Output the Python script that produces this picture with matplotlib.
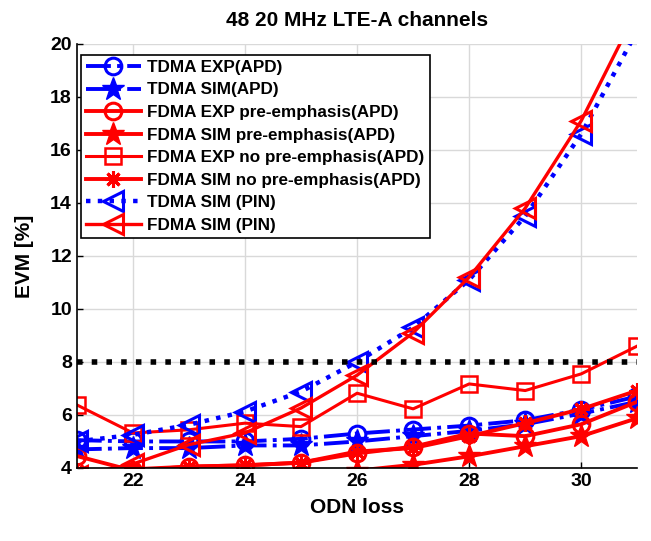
import numpy as np
import matplotlib
matplotlib.use('Agg')
import matplotlib.pyplot as plt

plt.rcParams['font.family'] = ['Liberation Sans', 'DejaVu Sans']
plt.rcParams['font.weight'] = 'bold'

odn_loss = [21, 22, 23, 24, 25, 26, 27, 28, 29, 30, 31]

tdma_exp_apd = [5.05, 5.0, 5.0, 5.0, 5.1, 5.3, 5.45, 5.6, 5.8, 6.2, 6.7]
tdma_sim_apd = [4.7, 4.75, 4.75, 4.85, 4.85, 5.0, 5.2, 5.4, 5.65, 6.05, 6.5]
fdma_exp_pre = [4.45, 3.9, 4.05, 4.1, 4.2, 4.55, 4.8, 5.3, 5.2, 5.65, 6.5]
fdma_sim_pre = [3.1, 3.2, 3.35, 3.5, 3.7, 3.9, 4.12, 4.44, 4.82, 5.2, 5.88]
fdma_exp_nopre = [6.38, 5.32, 5.44, 5.69, 5.56, 6.82, 6.23, 7.17, 6.92, 7.55, 8.6]
fdma_sim_nopre = [3.9, 3.95, 4.05, 4.1, 4.2, 4.62, 4.75, 5.2, 5.69, 6.22, 6.92]
tdma_sim_pin = [5.0, 5.25, 5.63, 6.13, 6.88, 8.0, 9.3, 11.1, 13.5, 16.6, 20.5]
fdma_sim_pin = [3.7, 4.15, 4.88, 5.32, 6.26, 7.5, 9.1, 11.2, 13.8, 17.1, 21.3]

threshold = 8


def main():
    fig = plt.figure(figsize=(6.51, 5.41), dpi=100)
    ax = fig.add_axes([0.118, 0.135, 0.861, 0.784])

    blue = '#0000ff'
    red = '#ff0000'
    lw = 2.8
    ms = 12

    ax.plot(odn_loss, tdma_exp_apd, '-.', color=blue, lw=lw, marker='o', ms=ms,
            mfc='none', mew=2.2, label='TDMA EXP(APD)')
    ax.plot(odn_loss, tdma_sim_apd, '-.', color=blue, lw=lw, marker='*', ms=ms + 5,
            label='TDMA SIM(APD)')
    ax.plot(odn_loss, fdma_exp_pre, '-', color=red, lw=lw, marker='o', ms=ms,
            mfc='none', mew=2.2, label='FDMA EXP pre-emphasis(APD)')
    ax.plot(odn_loss, fdma_sim_pre, '-', color=red, lw=lw, marker='*', ms=ms + 5,
            label='FDMA SIM pre-emphasis(APD)')
    ax.plot(odn_loss, fdma_exp_nopre, '-', color=red, lw=2.2, marker='s', ms=ms - 1,
            mfc='none', mew=1.8, label='FDMA EXP no pre-emphasis(APD)')
    ax.plot(odn_loss, fdma_sim_nopre, '-', color=red, lw=lw, marker=(8, 2, 0), ms=ms,
            mew=2.2, label='FDMA SIM no pre-emphasis(APD)')
    ax.plot(odn_loss, tdma_sim_pin, ':', color=blue, lw=3.2, marker='<', ms=ms + 2,
            mfc='none', mew=2.2, label='TDMA SIM (PIN)')
    ax.plot(odn_loss, fdma_sim_pin, '-', color=red, lw=2.4, marker='<', ms=ms + 2,
            mfc='none', mew=2.2, label='FDMA SIM (PIN)')

    ax.plot([odn_loss[0], odn_loss[-1]], [threshold, threshold], ':', color='black',
            lw=4)

    ax.set_xlim(21, 31)
    ax.set_ylim(4, 20)
    ax.set_xticks([22, 24, 26, 28, 30])
    ax.set_yticks(np.arange(4, 21, 2))
    ax.tick_params(direction='in', labelsize=14, length=4, width=1)
    for lab in ax.get_xticklabels() + ax.get_yticklabels():
        lab.set_fontweight('bold')
    ax.grid(True, color='#d9d9d9', lw=1)
    ax.set_axisbelow(True)
    ax.spines['top'].set_visible(False)
    ax.spines['right'].set_visible(False)
    ax.spines['left'].set_linewidth(1.2)
    ax.spines['bottom'].set_linewidth(1.2)

    ax.set_xlabel('ODN loss', fontsize=15, fontweight='bold', labelpad=6)
    ax.set_ylabel('EVM [%]', fontsize=15, fontweight='bold', labelpad=12)
    ax.set_title('48 20 MHz LTE-A channels', fontsize=15, fontweight='bold', pad=13)

    leg = ax.legend(loc='upper left', bbox_to_anchor=(0.007, 0.974), borderaxespad=0,
                    prop={'weight': 'bold', 'size': 12.3}, handlelength=3.2,
                    labelspacing=0.44, borderpad=0.3, handletextpad=0.4,
                    fancybox=False, framealpha=1, edgecolor='black')
    leg.get_frame().set_linewidth(1.2)

    fig.savefig('out.png', dpi=100)


if __name__ == "__main__":
    main()
